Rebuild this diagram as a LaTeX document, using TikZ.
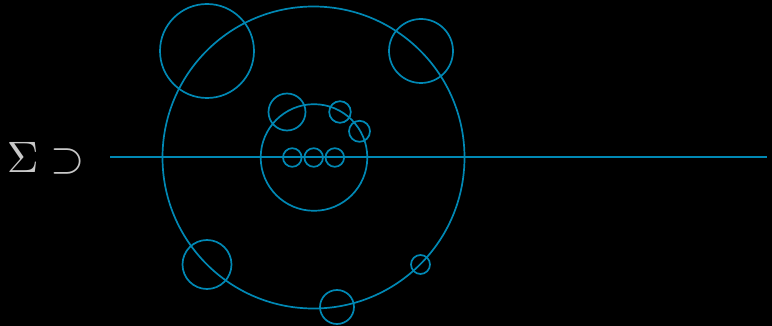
\documentclass[tikz,border=0pt]{standalone}
\definecolor{cblue}{HTML}{0088B4}
\definecolor{cgray}{HTML}{C8C8C8}
\begin{document}
\begin{tikzpicture}[x=1pt,y=-1pt,
  circ/.style={draw=cblue,line width=1.7pt},
  lbl/.style={text=cgray,inner sep=0pt,anchor=base west,scale=4.4}]
\fill[black] (0,0) rectangle (772,326);
\useasboundingbox (0,0) rectangle (772,326);
% axis line
\coordinate (l0) at (110,157);
\coordinate (l1) at (767,157);
\draw[circ,line width=2pt] (l0) -- (l1);
% big circle
\draw[circ] (313.5,157.5) circle[radius=151];
\draw[circ] (207,51) circle[radius=47];
\draw[circ] (421,51) circle[radius=32];
\draw[circ] (207,264.5) circle[radius=24.5];
\draw[circ] (420.5,264.5) circle[radius=9.5];
\draw[circ] (337,307) circle[radius=17];
% inner circle
\draw[circ] (314,157.5) circle[radius=53.3];
\draw[circ] (287,112) circle[radius=18.5];
\draw[circ] (340,112) circle[radius=10.8];
\draw[circ] (359.5,131.3) circle[radius=10.5];
\draw[circ] (292.3,157.5) circle[radius=9.3];
\draw[circ] (313.7,157.5) circle[radius=9.3];
\draw[circ] (334.8,157.5) circle[radius=9.3];
% label
\node[lbl] (sig) at (6,173) {$\Sigma\supset$};
\end{tikzpicture}
\end{document}
